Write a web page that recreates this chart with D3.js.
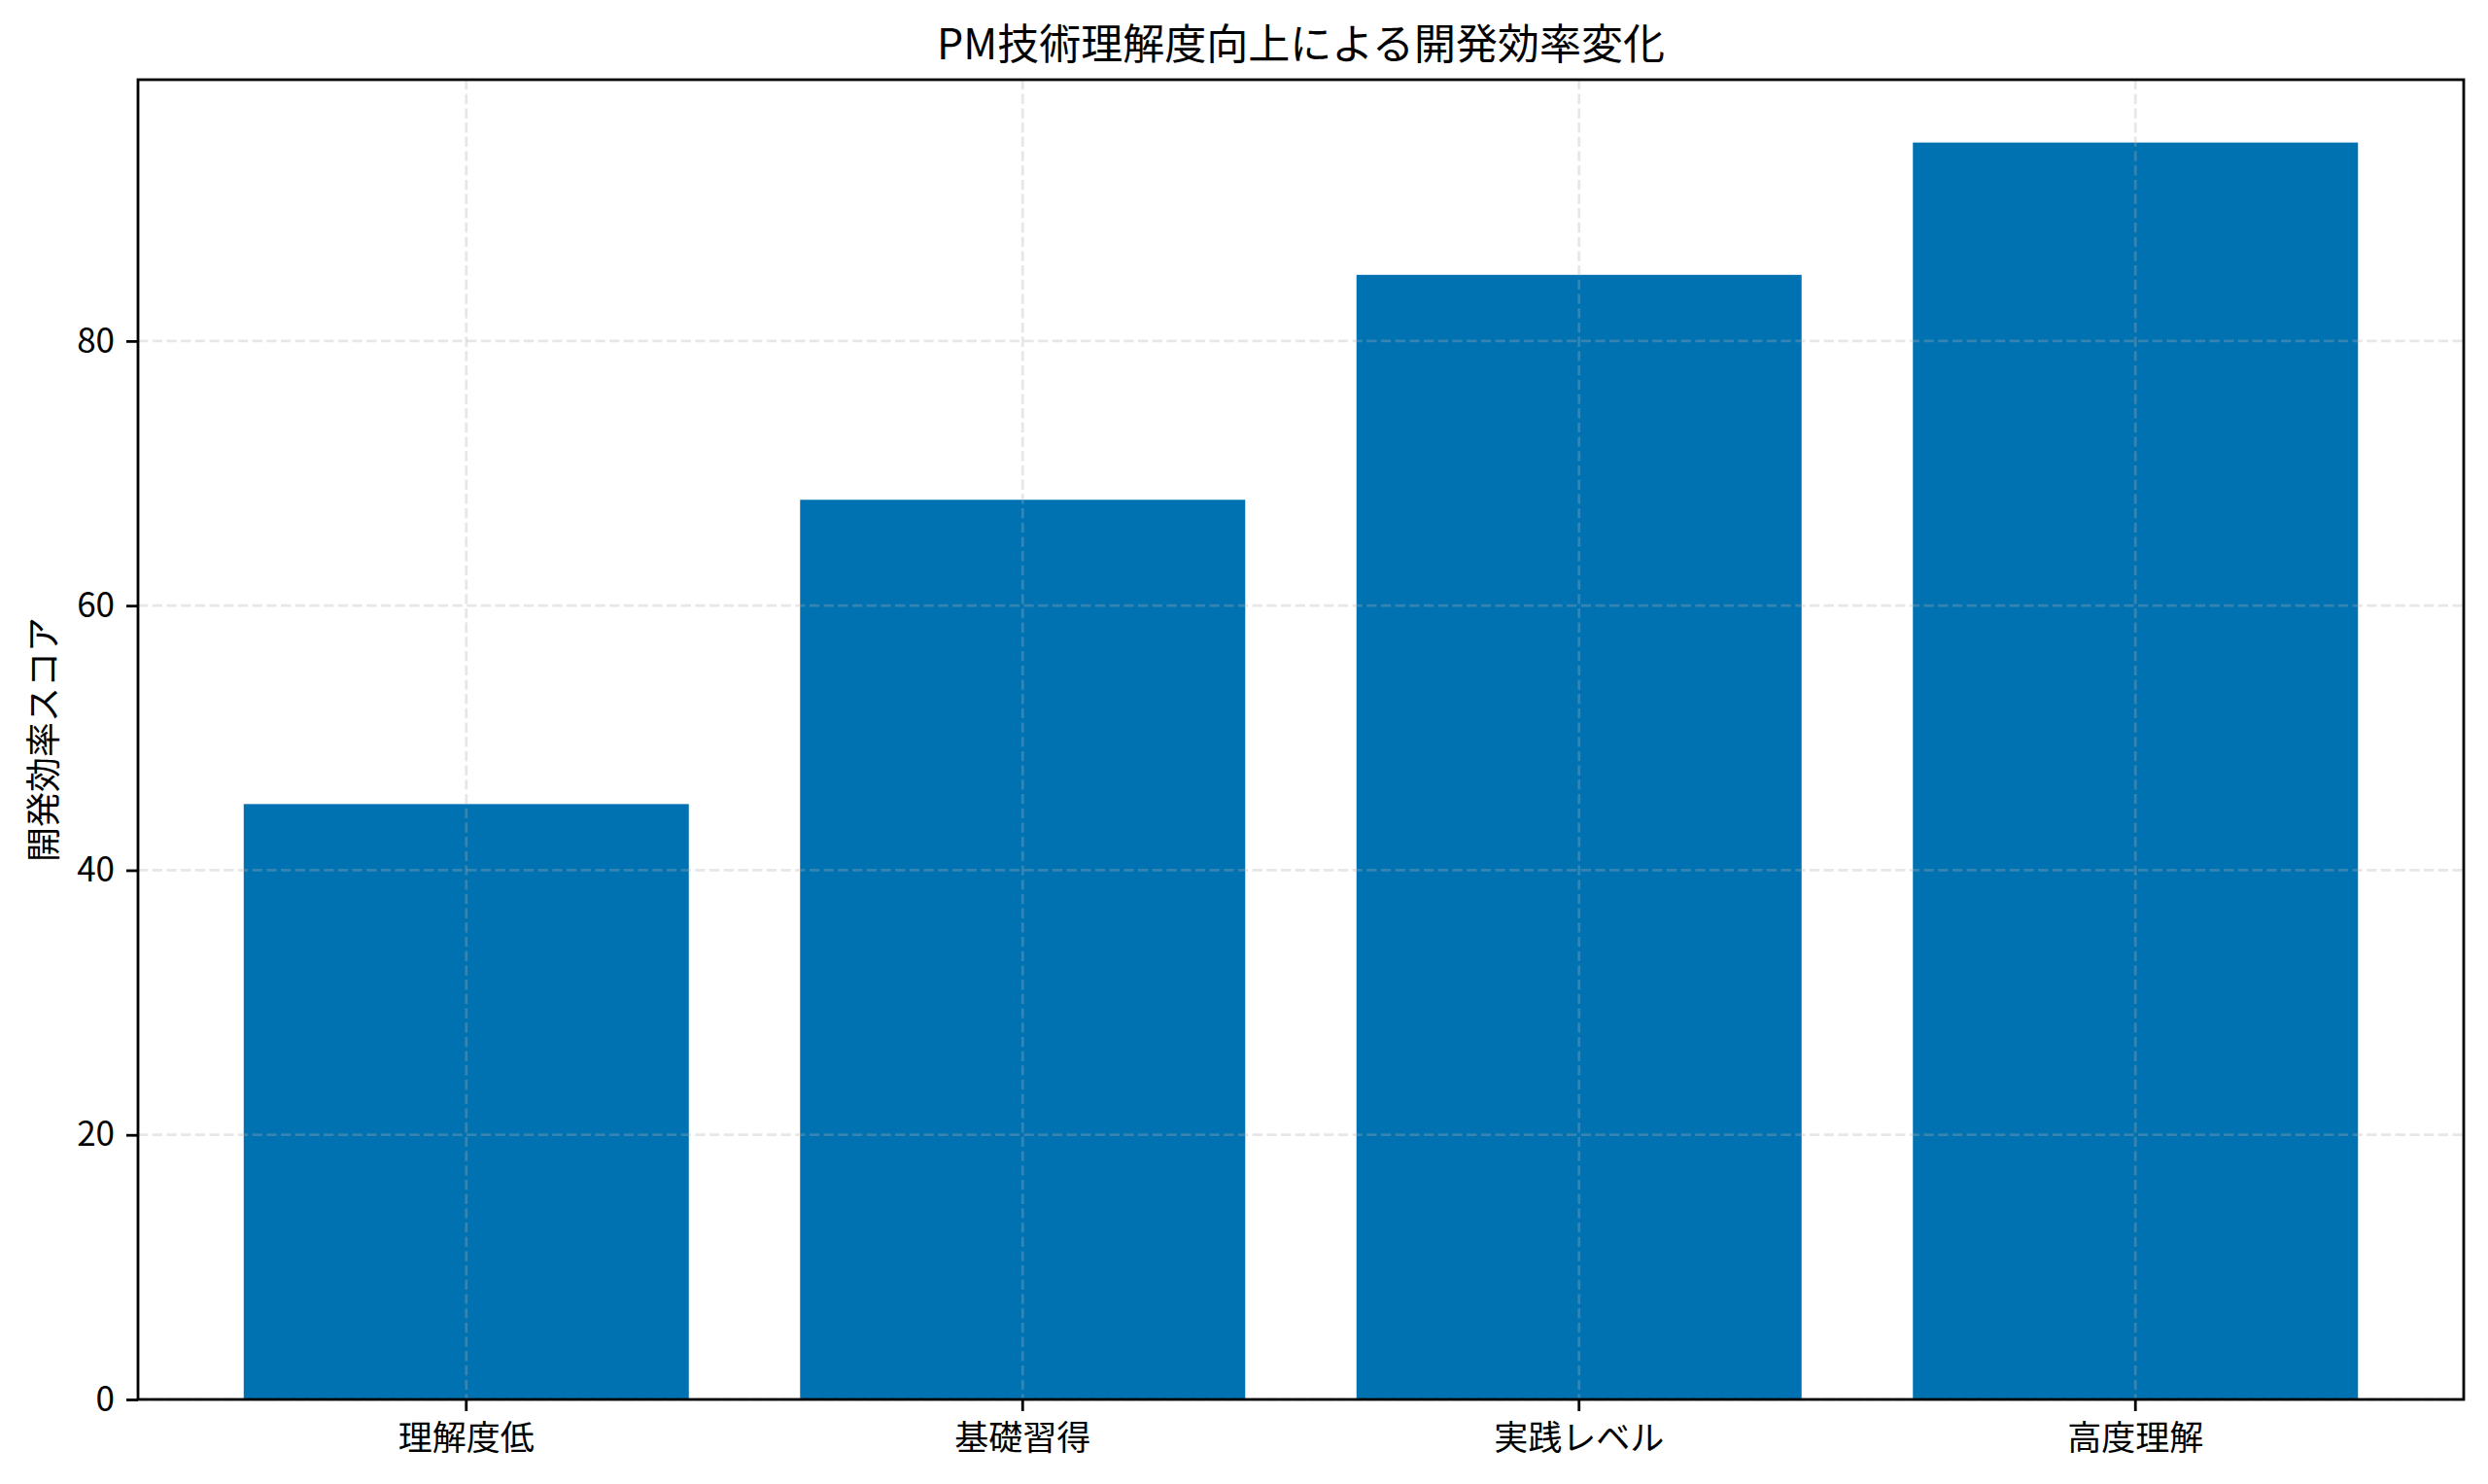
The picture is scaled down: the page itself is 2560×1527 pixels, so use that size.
<!DOCTYPE html>
<html lang="ja">

<head>
    <meta charset="UTF-8">
    <title>PM技術理解度向上による開発効率変化</title>
</head>

<style>
    body,
    html {
        margin: 0;
        padding: 0;
        background: #fff;
        font-family: "Noto Sans CJK JP", "Noto Sans", sans-serif;
    }
</style>

<body>
    <svg id="svg" width="2560" height="1527"></svg>

    <script src="https://d3js.org/d3.v7.min.js"></script>
    <script>
        // chart data
        const categories = ['理解度低', '基礎習得', '実践レベル', '高度理解'];
        const scores = [45, 68, 85, 95];
        const yTicks = [0, 20, 40, 60, 80];
        const titleText = 'PM技術理解度向上による開発効率変化';
        const yLabelText = '開発効率スコア';

        const margin = { top: 82, right: 25, bottom: 87, left: 142 };
        const W = 2560, H = 1527;
        const width = W - margin.left - margin.right;
        const height = H - margin.top - margin.bottom;

        const svg = d3.select('#svg');
        const g = svg.append('g')
            .attr('transform', `translate(${margin.left}, ${margin.top})`);

        // x scale: bar width 0.8, matplotlib-like 5% margins
        const xscale = d3.scaleBand()
            .domain(categories)
            .range([0, width])
            .paddingInner(0.2)
            .paddingOuter(0.19);

        // y scale
        const yscale = d3.scaleLinear()
            .domain([0, d3.max(scores) * 1.05])
            .range([height, 0]);

        // bars
        g.selectAll('rect.bar')
            .data(categories)
            .join('rect')
            .attr('class', 'bar')
            .attr('x', d => xscale(d))
            .attr('width', xscale.bandwidth())
            .attr('y', (d, i) => yscale(scores[i]))
            .attr('height', (d, i) => height - yscale(scores[i]))
            .attr('fill', '#0072B2');

        // grid (drawn over bars, like the original)
        const grid = g.append('g').attr('class', 'grid');
        grid.selectAll('line.h')
            .data(yTicks)
            .join('line')
            .attr('class', 'h')
            .attr('x1', 0).attr('x2', width)
            .attr('y1', d => yscale(d)).attr('y2', d => yscale(d));
        grid.selectAll('line.v')
            .data(categories)
            .join('line')
            .attr('class', 'v')
            .attr('x1', d => xscale(d) + xscale.bandwidth() / 2)
            .attr('x2', d => xscale(d) + xscale.bandwidth() / 2)
            .attr('y1', 0).attr('y2', height);
        grid.selectAll('line')
            .attr('stroke', '#b0b0b0')
            .attr('stroke-opacity', 0.3)
            .attr('stroke-width', 2.8)
            .attr('stroke-dasharray', '10.3,4.4');

        // axes
        const bottomAxis = d3.axisBottom(xscale)
            .tickSize(12)
            .tickPadding(15)
            .tickSizeOuter(0);
        const xAxis = g.append('g')
            .attr('transform', `translate(0, ${height})`)
            .call(bottomAxis);

        const leftAxis = d3.axisLeft(yscale)
            .tickValues(yTicks)
            .tickSize(12)
            .tickPadding(12)
            .tickSizeOuter(0);
        const yAxis = g.append('g').call(leftAxis);

        [xAxis, yAxis].forEach(a => {
            a.select('.domain').remove();
            a.selectAll('.tick line').attr('stroke', '#000').attr('stroke-width', 2.8);
            a.selectAll('.tick text')
                .attr('fill', '#000')
                .style('font-size', '35px')
                .style('font-family', '"Noto Sans CJK JP", sans-serif');
        });

        // frame
        g.append('rect')
            .attr('x', 0).attr('y', 0)
            .attr('width', width).attr('height', height)
            .attr('fill', 'none')
            .attr('stroke', '#000')
            .attr('stroke-width', 2.8);

        // title
        svg.append('text')
            .attr('x', margin.left + width / 2)
            .attr('y', 61)
            .attr('text-anchor', 'middle')
            .style('font-size', '43px')
            .text(titleText);

        // y-axis label
        svg.append('text')
            .attr('transform', `translate(58, ${margin.top + height / 2}) rotate(-90)`)
            .attr('text-anchor', 'middle')
            .style('font-size', '36px')
            .text(yLabelText);
    </script>
</body>

</html>
